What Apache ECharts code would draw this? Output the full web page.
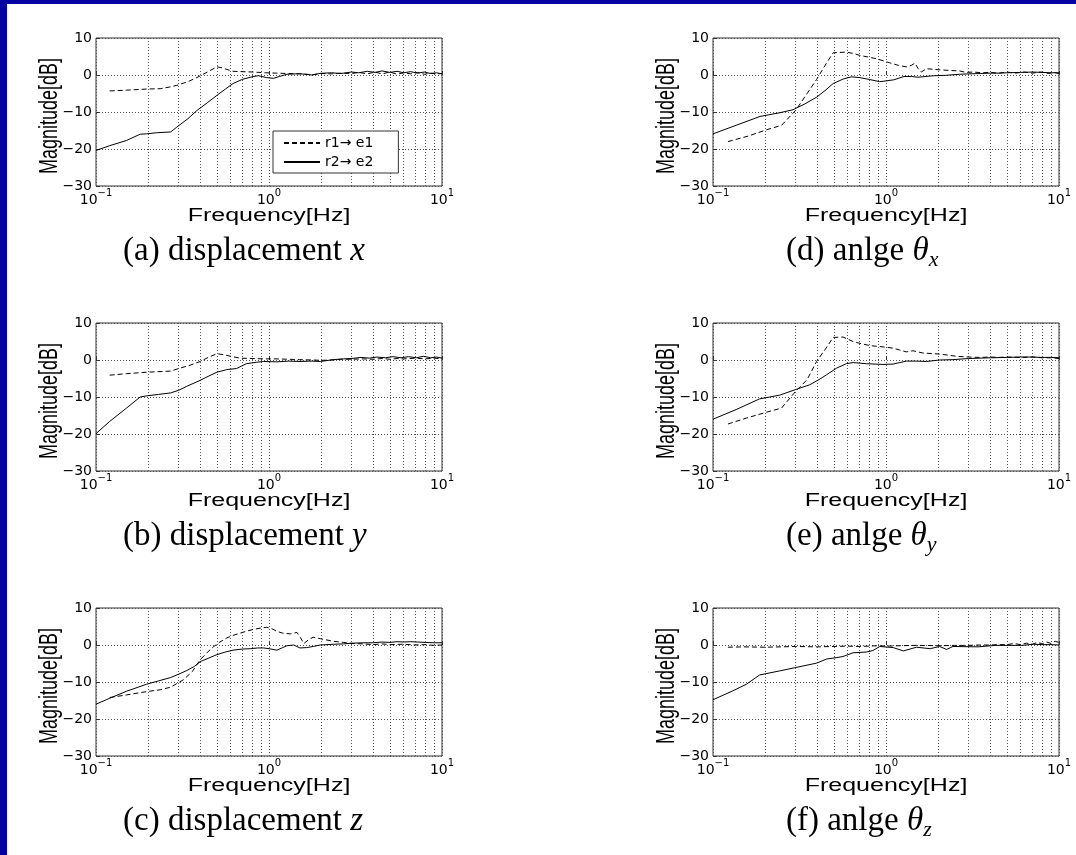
<!DOCTYPE html>
<html><head><meta charset="utf-8">
<script src="https://cdn.jsdelivr.net/npm/echarts@6/dist/echarts.min.js"></script>
<style>html,body{margin:0;padding:0;background:#fff}#c{width:1076px;height:855px}</style>
</head><body><div id="c"></div>
<script>
// ---------- data: [frequency Hz, magnitude dB] ----------
const seriesNames = ['r1\u2192 e1', 'r2\u2192 e2'];
const captionLabels = ['(a) displacement ', '(b) displacement ', '(c) displacement ', '(d) anlge ', '(e) anlge ', '(f) anlge '];
const captionSymbols = ['x', 'y', 'z', '\u03b8', '\u03b8', '\u03b8'];
const captionSubs = ['', '', '', 'x', 'y', 'z'];
const yTickValues = [-30, -20, -10, 0, 10];
const xMinorGrid = [0.2, 0.3, 0.4, 0.5, 0.6, 0.7, 0.8, 0.9, 2, 3, 4, 5, 6, 7, 8, 9];

const a_r1 = [[0.12,-4.3],[0.15,-4.1],[0.196,-3.8],[0.235,-3.7],[0.27,-3.2],[0.293,-2.8],[0.34,-1.8],[0.383,-0.7],[0.44,0.8],[0.5,2.2],[0.54,1.9],[0.57,1.5],[0.62,1.0],[0.7,0.9],[0.81,0.8],[0.95,0.6],[1.1,0.5],[1.3,0.4],[1.5,0.3],[1.8,0.1],[2.0,0.4],[2.3,0.3],[2.6,0.5],[3.0,0.4],[3.3,0.7],[3.7,0.3],[4.1,0.8],[4.5,0.3],[5.0,0.8],[5.5,0.2],[6.0,0.6],[6.6,0.3],[7.2,0.7],[7.9,0.2],[8.6,0.5],[9.3,0.3],[10,0.4]];
const a_r2 = [[0.1,-20.4],[0.12,-19.1],[0.15,-17.7],[0.18,-16.0],[0.196,-15.9],[0.224,-15.6],[0.27,-15.4],[0.293,-14.1],[0.34,-11.8],[0.383,-9.6],[0.44,-7.5],[0.5,-5.5],[0.56,-3.8],[0.62,-2.3],[0.7,-1.2],[0.81,-0.4],[0.87,-0.2],[0.97,-0.7],[1.06,-0.9],[1.15,-0.4],[1.27,0.2],[1.51,0.35],[1.77,0.0],[1.98,0.45],[2.3,0.6],[2.6,0.4],[3.0,0.8],[3.3,0.6],[3.7,1.0],[4.1,0.7],[4.5,1.1],[5.0,0.7],[5.5,1.0],[6.0,0.6],[6.6,0.9],[7.2,0.5],[7.9,0.8],[8.6,0.4],[9.3,0.6],[10,0.3]];

const b_r1 = [[0.12,-4.1],[0.15,-3.7],[0.196,-3.3],[0.27,-3.0],[0.306,-2.2],[0.35,-1.4],[0.4,-0.4],[0.45,0.8],[0.5,1.7],[0.55,1.4],[0.6,1.0],[0.68,0.5],[0.8,0.4],[0.95,0.3],[1.1,0.3],[1.3,0.2],[1.5,0.1],[1.8,0.0],[2.0,-0.1],[2.3,0.0],[2.6,0.2],[3.0,0.2],[3.5,0.3],[4.0,0.2],[4.5,0.4],[5.0,0.2],[5.5,0.4],[6.0,0.3],[7.0,0.5],[8.0,0.3],[9.0,0.5],[10,0.3]];
const b_r2 = [[0.1,-19.9],[0.12,-16.6],[0.15,-13.0],[0.18,-10.0],[0.196,-9.7],[0.23,-9.3],[0.27,-8.9],[0.3,-8.2],[0.335,-7.1],[0.4,-5.5],[0.45,-4.3],[0.5,-3.3],[0.57,-2.6],[0.65,-2.3],[0.74,-1.0],[0.85,-0.6],[0.93,-0.4],[1.11,-0.5],[1.3,-0.3],[1.51,-0.4],[1.75,-0.3],[1.98,-0.4],[2.36,0.1],[2.7,0.3],[3.06,0.45],[3.4,0.7],[3.8,0.5],[4.2,0.8],[4.7,0.6],[5.2,0.9],[5.8,0.6],[6.4,0.9],[7.1,0.6],[7.8,1.0],[8.6,0.6],[9.3,0.8],[10,0.5]];

const c_r1 = [[0.12,-14.2],[0.15,-13.5],[0.196,-12.6],[0.235,-12.1],[0.27,-11.4],[0.32,-9.4],[0.36,-7.2],[0.4,-4.0],[0.44,-2.0],[0.477,-0.5],[0.52,0.8],[0.57,1.9],[0.62,2.6],[0.68,3.2],[0.75,3.8],[0.81,4.2],[0.9,4.6],[0.97,4.8],[1.04,4.4],[1.11,3.7],[1.2,3.2],[1.33,3.0],[1.45,3.4],[1.52,2.0],[1.59,0.4],[1.7,1.5],[1.8,2.1],[1.98,1.7],[2.36,1.0],[2.7,0.7],[3.06,0.4],[3.5,0.3],[4.0,0.1],[4.5,0.3],[5.0,0.1],[6.0,0.2],[7.0,0.0],[8.0,0.1],[9.0,-0.1],[10,0.0]];
const c_r2 = [[0.1,-16.0],[0.12,-14.4],[0.15,-12.5],[0.196,-10.6],[0.23,-9.7],[0.27,-8.8],[0.3,-7.9],[0.335,-6.9],[0.37,-5.8],[0.4,-4.5],[0.45,-3.5],[0.5,-2.6],[0.56,-1.9],[0.62,-1.4],[0.7,-1.1],[0.78,-1.0],[0.86,-0.8],[0.93,-0.8],[1.0,-1.0],[1.11,-1.4],[1.2,-0.7],[1.27,-0.2],[1.39,0.0],[1.51,-0.8],[1.65,-0.7],[1.8,-0.4],[1.98,0.0],[2.36,0.2],[2.7,0.3],[3.06,0.5],[3.5,0.6],[4.0,0.6],[4.5,0.8],[5.0,0.7],[5.5,0.9],[6.0,0.8],[6.6,0.9],[7.2,0.8],[8.0,0.7],[9.0,0.6],[10,0.6]];

const d_r1 = [[0.122,-18.0],[0.16,-16.5],[0.204,-14.8],[0.249,-13.6],[0.3,-9.6],[0.35,-5.0],[0.397,-1.2],[0.45,3.0],[0.495,6.0],[0.54,6.1],[0.59,6.2],[0.65,5.8],[0.705,5.3],[0.8,4.8],[0.88,4.4],[0.97,3.8],[1.05,3.3],[1.18,2.6],[1.31,2.2],[1.4,2.6],[1.47,3.2],[1.53,1.8],[1.6,0.8],[1.71,1.7],[2.04,1.4],[2.4,1.2],[2.66,1.1],[2.9,0.7],[3.2,0.8],[3.6,0.6],[4.0,0.7],[4.5,0.5],[5.0,0.8],[5.6,0.5],[6.3,0.8],[7.0,0.5],[7.8,0.8],[8.7,0.4],[9.4,0.7],[10,0.4]];
const d_r2 = [[0.1,-15.9],[0.136,-13.6],[0.187,-11.2],[0.243,-10.2],[0.29,-9.4],[0.34,-7.8],[0.397,-6.0],[0.45,-4.0],[0.495,-2.3],[0.565,-1.1],[0.63,-0.5],[0.705,-0.7],[0.8,-1.2],[0.92,-1.8],[1.0,-1.6],[1.11,-1.3],[1.27,-0.4],[1.4,-0.4],[1.53,-0.6],[1.88,-0.2],[2.2,-0.1],[2.66,0.2],[3.0,0.3],[3.5,0.4],[4.0,0.5],[4.5,0.5],[5.0,0.6],[6.0,0.7],[7.0,0.8],[8.0,0.7],[9.0,0.6],[10,0.6]];

const e_r1 = [[0.122,-17.3],[0.156,-15.7],[0.204,-14.1],[0.249,-13.0],[0.3,-8.5],[0.35,-5.3],[0.397,-0.4],[0.45,3.2],[0.495,6.1],[0.565,6.2],[0.645,5.0],[0.72,4.4],[0.806,3.9],[0.98,3.5],[1.1,3.2],[1.2,2.7],[1.31,2.2],[1.43,2.5],[1.63,1.9],[2.04,1.6],[2.3,1.3],[2.55,1.0],[3.0,0.8],[3.5,0.7],[4.0,0.8],[4.5,0.7],[5.0,0.8],[6.0,0.7],[7.0,0.8],[8.0,0.6],[9.0,0.6],[10,0.4]];
const e_r2 = [[0.1,-16.0],[0.136,-13.4],[0.186,-10.5],[0.243,-9.5],[0.3,-8.0],[0.362,-6.7],[0.41,-5.3],[0.453,-4.0],[0.518,-2.2],[0.59,-1.0],[0.645,-0.7],[0.77,-1.0],[0.96,-1.2],[1.1,-1.1],[1.2,-0.7],[1.31,-0.3],[1.5,-0.3],[1.71,-0.4],[2.04,0.0],[2.44,0.1],[3.0,0.4],[3.5,0.5],[4.0,0.6],[5.0,0.7],[6.0,0.8],[7.0,0.8],[8.0,0.7],[9.0,0.7],[10,0.6]];

const f_r1 = [[0.122,-0.6],[0.15,-0.5],[0.2,-0.6],[0.25,-0.5],[0.3,-0.4],[0.4,-0.5],[0.5,-0.4],[0.6,-0.3],[0.7,-0.4],[0.8,-0.3],[0.9,-0.2],[1.0,-0.3],[1.2,-0.2],[1.5,-0.1],[2.0,-0.2],[2.5,-0.1],[3.0,-0.1],[3.5,0.0],[4.0,0.0],[4.5,0.1],[5.0,0.1],[5.5,0.4],[6.0,0.1],[6.5,0.5],[7.0,0.2],[7.5,0.7],[8.0,0.3],[8.5,0.8],[9.0,0.4],[9.5,1.0],[10,0.7]];
const f_r2 = [[0.1,-14.8],[0.13,-12.4],[0.156,-10.6],[0.186,-8.1],[0.243,-7.0],[0.3,-6.1],[0.397,-4.9],[0.453,-3.8],[0.52,-3.4],[0.565,-3.1],[0.645,-2.1],[0.77,-1.9],[0.84,-1.5],[0.92,-0.4],[1.1,-0.7],[1.26,-1.6],[1.5,-0.6],[1.8,-1.0],[2.04,-0.4],[2.24,-1.2],[2.44,-0.4],[3.4,-0.5],[4.3,-0.1],[5.0,-0.1],[6.1,-0.1],[7.1,0.2],[8.0,0.1],[9.0,0.1],[10,0.0]];

// ---------- layout ----------
const panelData = [[a_r1,a_r2],[b_r1,b_r2],[c_r1,c_r2],[d_r1,d_r2],[e_r1,e_r2],[f_r1,f_r2]];
const GW = 346, GH = 148;
const colLeft = [96, 713];
const rowTop = [38, 323, 608];
const captionLeft = [123, 786];
const STRETCH = 1.39;
const SANS = 'Liberation Sans, Arial, sans-serif';
const TICKFONT = 'DejaVu Sans, sans-serif';
const SERIF = 'Liberation Serif, Times New Roman, serif';

const grids = [], xAxes = [], yAxes = [], series = [], graphics = [];
graphics.push({type:'rect', shape:{x:0,y:0,width:7,height:855}, style:{fill:'#0500a0'}, silent:true});
graphics.push({type:'rect', shape:{x:0,y:0,width:1076,height:4}, style:{fill:'#0500a0'}, silent:true});

for (let p = 0; p < 6; p++) {
  const col = p < 3 ? 0 : 1, row = p % 3;
  const L = colLeft[col], T = rowTop[row];
  grids.push({left:L, top:T, width:GW, height:GH, show:true, borderColor:'#333', borderWidth:1, backgroundColor:'#fff'});
  xAxes.push({
    type:'log', logBase:10, min:0.1, max:10, gridIndex:p,
    axisLine:{show:false},
    axisTick:{show:true, inside:true, length:4, lineStyle:{color:'#333'}},
    splitLine:{show:true, lineStyle:{type:[1,2], color:'#555', width:1}},
    axisLabel:{
      margin:2,
      formatter: function(v){ const e = Math.round(Math.log10(v)); return '{b|10}{s|' + (e < 0 ? '\u2212' + (-e) : e) + '}'; },
      rich:{
        b:{fontFamily:TICKFONT, fontSize:14, color:'#000', lineHeight:19, verticalAlign:'bottom'},
        s:{fontFamily:TICKFONT, fontSize:10, color:'#000', lineHeight:19, verticalAlign:'top'}
      }
    }
  });
  yAxes.push({
    type:'value', min:-30, max:10, interval:10, gridIndex:p,
    axisLine:{show:false},
    axisTick:{show:true, inside:true, length:4, lineStyle:{color:'#333'}},
    splitLine:{show:true, lineStyle:{type:[1,2], color:'#555', width:1}},
    axisLabel:{margin:4, fontFamily:TICKFONT, fontSize:14, color:'#000',
      formatter: v => String(v).replace('-', '\u2212')}
  });
  const [r1, r2] = panelData[p];
  series.push({
    name: seriesNames[0], type:'line', xAxisIndex:p, yAxisIndex:p, data:r1,
    symbol:'none', smooth:false, z:3,
    lineStyle:{color:'#000', width:1, type:[5,3]}, itemStyle:{color:'#000'}
  });
  series.push({
    name: seriesNames[1], type:'line', xAxisIndex:p, yAxisIndex:p, data:r2,
    symbol:'none', smooth:false, z:3,
    lineStyle:{color:'#000', width:1, type:'solid'}, itemStyle:{color:'#000'},
    markLine:{
      silent:true, symbol:['none','none'], label:{show:false}, z:1,
      lineStyle:{type:[1,2], color:'#555', width:1},
      emphasis:{disabled:true},
      data: xMinorGrid.map(v => ({xAxis:v}))
    }
  });
  // axis names (stretched horizontally like the reference figure)
  graphics.push({type:'text', x:L + GW/2, y:T + GH + 30, scaleX:STRETCH, silent:true,
    style:{text:'Frequency[Hz]', fontFamily:SANS, fontSize:18, fill:'#000', align:'center', verticalAlign:'middle', textAlign:'center', textVerticalAlign:'middle'}});
  graphics.push({type:'text', x:L - 46, y:T + GH/2 + 4, rotation:Math.PI/2, scaleY:STRETCH, silent:true,
    style:{text:'Magnitude[dB]', fontFamily:SANS, fontSize:18, fill:'#000', align:'center', verticalAlign:'middle', textAlign:'center', textVerticalAlign:'middle'}});
  // caption
  const sub = captionSubs[p] ? '{sub|' + captionSubs[p] + '}' : '';
  graphics.push({type:'text', x:captionLeft[col], y:T + 213, silent:true,
    style:{
      text:'{n|' + captionLabels[p] + '}{i|' + captionSymbols[p] + '}' + sub,
      align:'left', verticalAlign:'middle', textAlign:'left', textVerticalAlign:'middle',
      rich:{
        n:{fontFamily:SERIF, fontSize:33, fill:'#000', color:'#000', lineHeight:40, verticalAlign:'middle'},
        i:{fontFamily:SERIF, fontSize:33, fontStyle:'italic', fill:'#000', color:'#000', lineHeight:40, verticalAlign:'middle'},
        sub:{fontFamily:SERIF, fontSize:22, fontStyle:'italic', fill:'#000', color:'#000', lineHeight:40, verticalAlign:'bottom'}
      }
    }});
}

const chart = echarts.init(document.getElementById('c'));
chart.setOption({
  backgroundColor:'#fff',
  animation:false,
  grid:grids, xAxis:xAxes, yAxis:yAxes, series:series,
  legend:{
    data:seriesNames, left:273, top:131, orient:'vertical',
    padding:[5,25,4,10], itemGap:5, itemWidth:36, itemHeight:12,
    backgroundColor:'#fff', borderColor:'#333', borderWidth:1,
    itemStyle:{opacity:0},
    textStyle:{fontFamily:TICKFONT, fontSize:14, color:'#000'},
    selectedMode:false
  },
  graphic:{elements:graphics}
});
</script></body></html>
